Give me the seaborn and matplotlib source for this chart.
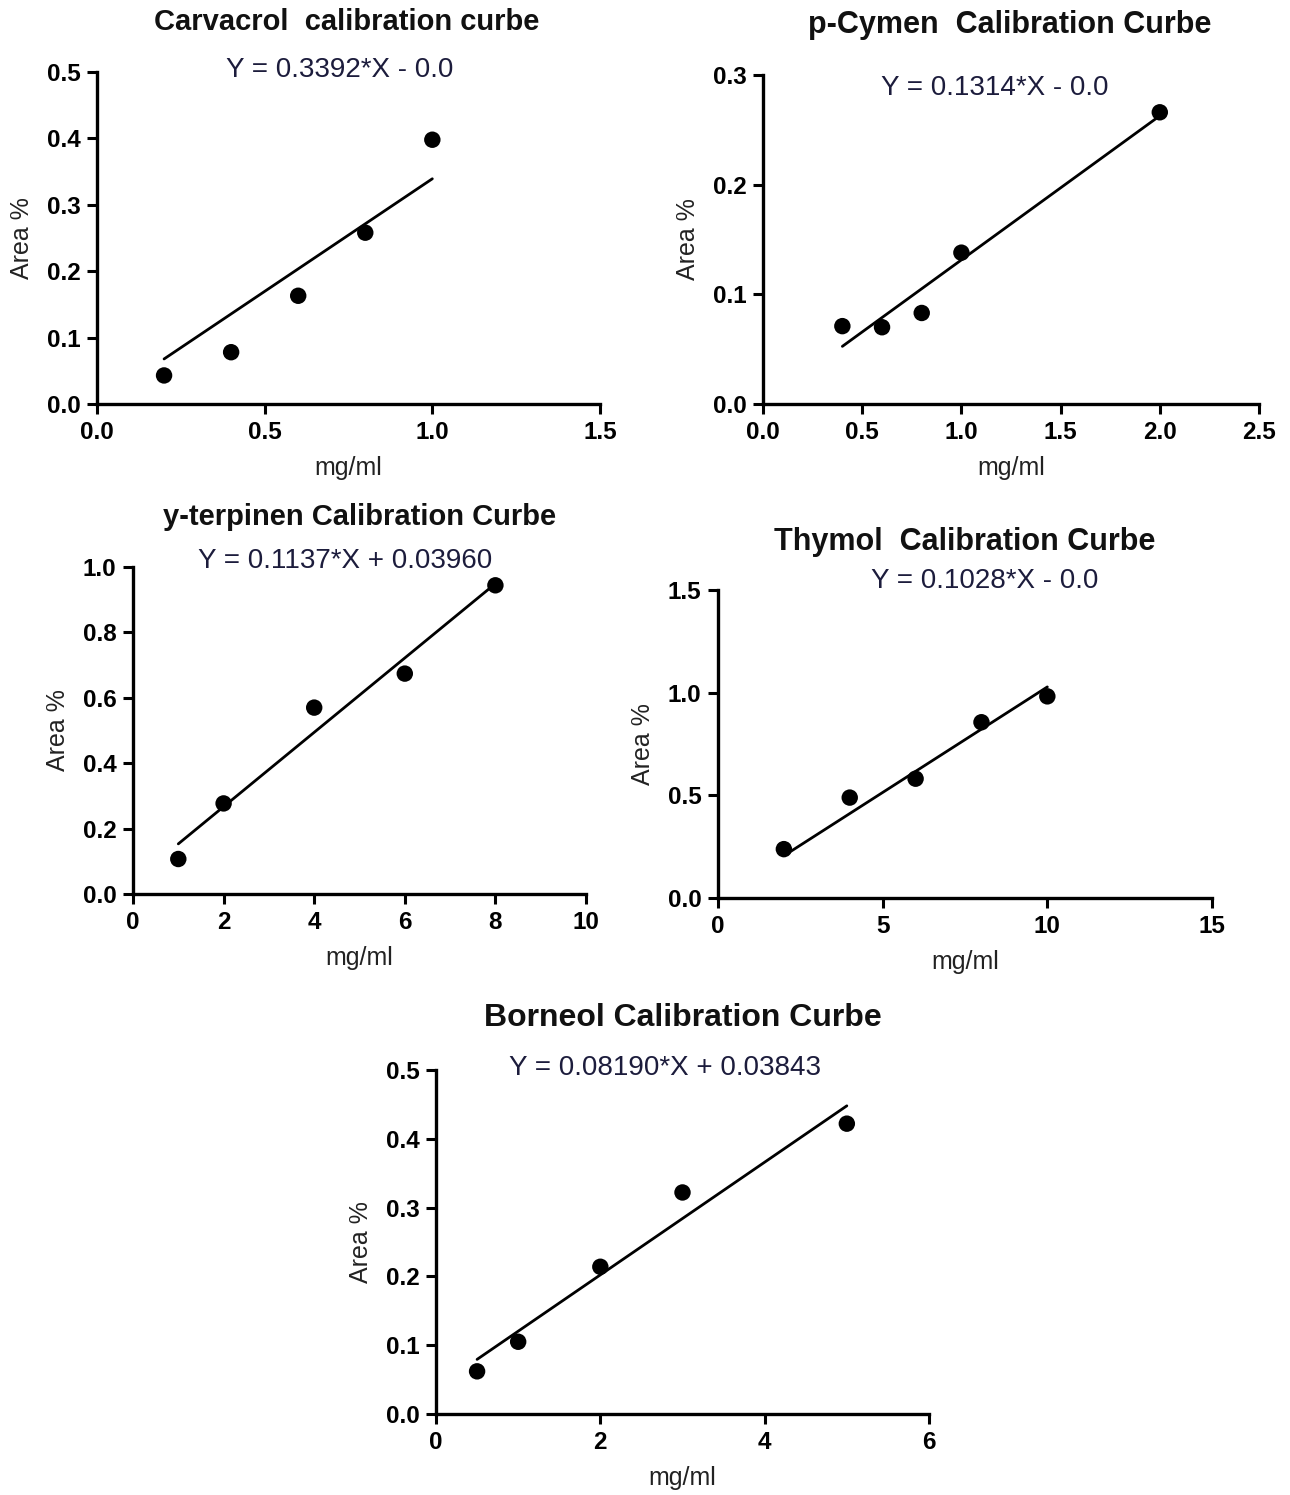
import numpy as np
import pandas as pd
import matplotlib
matplotlib.use("Agg")
import matplotlib.pyplot as plt
import seaborn as sns

# ---- data ----
carvacrol_x = [0.2, 0.4, 0.6, 0.8, 1.0]
carvacrol_y = [0.043, 0.078, 0.163, 0.258, 0.398]
carvacrol_fit = (0.3392, 0.0)

pcymen_x = [0.4, 0.6, 0.8, 1.0, 2.0]
pcymen_y = [0.071, 0.070, 0.083, 0.138, 0.266]
pcymen_fit = (0.1314, 0.0)

terpinen_x = [1, 2, 4, 6, 8]
terpinen_y = [0.107, 0.277, 0.570, 0.674, 0.944]
terpinen_fit = (0.1137, 0.03960)

thymol_x = [2, 4, 6, 8, 10]
thymol_y = [0.238, 0.489, 0.581, 0.856, 0.982]
thymol_fit = (0.1028, 0.0)

borneol_x = [0.5, 1, 2, 3, 5]
borneol_y = [0.062, 0.105, 0.214, 0.322, 0.422]
borneol_fit = (0.08190, 0.03843)

titles = [
    "Carvacrol  calibration curbe",
    "p-Cymen  Calibration Curbe",
    "y-terpinen Calibration Curbe",
    "Thymol  Calibration Curbe",
    "Borneol Calibration Curbe",
]
equations = [
    "Y = 0.3392*X - 0.0",
    "Y = 0.1314*X - 0.0",
    "Y = 0.1137*X + 0.03960",
    "Y = 0.1028*X - 0.0",
    "Y = 0.08190*X + 0.03843",
]
x_ticks = [
    [0.0, 0.5, 1.0, 1.5],
    [0.0, 0.5, 1.0, 1.5, 2.0, 2.5],
    [0, 2, 4, 6, 8, 10],
    [0, 5, 10, 15],
    [0, 2, 4, 6],
]
y_ticks = [
    [0.0, 0.1, 0.2, 0.3, 0.4, 0.5],
    [0.0, 0.1, 0.2, 0.3],
    [0.0, 0.2, 0.4, 0.6, 0.8, 1.0],
    [0.0, 0.5, 1.0, 1.5],
    [0.0, 0.1, 0.2, 0.3, 0.4, 0.5],
]
x_fmt = ["{:.1f}", "{:.1f}", "{:.0f}", "{:.0f}", "{:.0f}"]

series = [
    (carvacrol_x, carvacrol_y, carvacrol_fit),
    (pcymen_x, pcymen_y, pcymen_fit),
    (terpinen_x, terpinen_y, terpinen_fit),
    (thymol_x, thymol_y, thymol_fit),
    (borneol_x, borneol_y, borneol_fit),
]

# ---- layout (pixels) ----
W, H = 1290, 1495
# x0, x1, y_bottom, y_top of each axes box
boxes = [
    (97, 600, 404, 72),
    (763, 1259, 404, 75),
    (133, 586, 894, 567),
    (718, 1212, 898, 590),
    (436, 929, 1414, 1070),
]
title_pos = [(347, 22), (1010, 25), (360, 517), (965, 542), (683, 1018)]
title_size = [21, 22, 21, 22, 23]
eq_pos = [(340, 70), (995, 88), (345, 561), (985, 581), (665, 1068)]

sns.set_style("ticks")
plt.rcParams["font.family"] = ["Liberation Sans", "DejaVu Sans"]

fig = plt.figure(figsize=(W / 100, H / 100), dpi=100)

for i, (xs, ys, (slope, icpt)) in enumerate(series):
    x0, x1, yb, yt = boxes[i]
    ax = fig.add_axes([x0 / W, 1 - yb / H, (x1 - x0) / W, (yb - yt) / H])

    df = pd.DataFrame({"conc": xs, "area": ys})
    fit = pd.DataFrame({"conc": [min(xs), max(xs)]})
    fit["area"] = slope * fit["conc"] + icpt

    sns.lineplot(data=fit, x="conc", y="area", color="black", lw=2.0, ax=ax)
    sns.scatterplot(data=df, x="conc", y="area", color="black", s=140,
                    edgecolor="none", ax=ax, zorder=3)

    ax.set_xlim(x_ticks[i][0], x_ticks[i][-1])
    ax.set_ylim(y_ticks[i][0], y_ticks[i][-1])
    ax.set_xticks(x_ticks[i])
    ax.set_xticklabels([x_fmt[i].format(v) for v in x_ticks[i]])
    ax.set_yticks(y_ticks[i])
    ax.set_yticklabels(["{:.1f}".format(v) for v in y_ticks[i]])
    ax.tick_params(axis="both", direction="out", length=7, width=2.2,
                   labelsize=17.5, colors="black", pad=5)
    for lab in ax.get_xticklabels() + ax.get_yticklabels():
        lab.set_fontweight("bold")

    sns.despine(ax=ax)
    for side in ("left", "bottom"):
        ax.spines[side].set_linewidth(2.4)
        ax.spines[side].set_color("black")
    ax.patch.set_alpha(0)

    ax.set_xlabel("mg/ml", fontsize=18, color="#222222", labelpad=9)
    ax.set_ylabel("Area %", fontsize=18, color="#222222", labelpad=9)

    tx, ty = title_pos[i]
    fig.text(tx / W, 1 - ty / H, titles[i], ha="center", va="center",
             fontsize=title_size[i], fontweight="bold", color="#111111")
    ex, ey = eq_pos[i]
    fig.text(ex / W, 1 - ey / H, equations[i], ha="center", va="center",
             fontsize=20, color="#1c1c3c")

fig.savefig("out.png", dpi=100, facecolor="white")
